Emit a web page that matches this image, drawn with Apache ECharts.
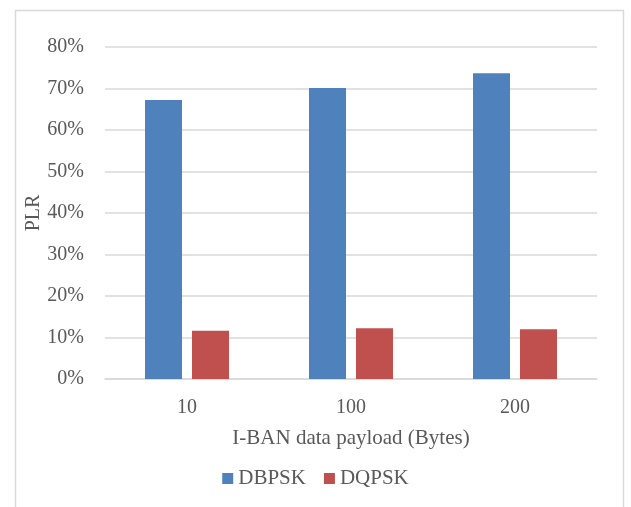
<!DOCTYPE html>
<html>
<head>
<meta charset="utf-8">
<script src="https://cdn.jsdelivr.net/npm/echarts@6/dist/echarts.min.js"></script>
<style>
  html, body { margin: 0; padding: 0; background: #fff; }
  #chart { width: 631px; height: 507px; }
</style>
</head>
<body>
<div id="chart"></div>
<script>
// Payload sizes (bytes) and packet loss ratio per modulation
const payloads = ['10', '100', '200'];
const dbpsk = [0.672, 0.701, 0.737];
const dqpsk = [0.116, 0.122, 0.120];
const yTicks = [0, 0.1, 0.2, 0.3, 0.4, 0.5, 0.6, 0.7, 0.8];

const FONT = '"Liberation Serif", "Times New Roman", serif';
const TEXT = '#595959';
const GRID = '#d9d9d9';

const chart = echarts.init(document.getElementById('chart'), null, { renderer: 'canvas' });
chart.setOption({
  backgroundColor: '#fff',
  animation: false,
  graphic: [{
    type: 'rect',
    shape: { x: 15.5, y: 10.5, width: 608, height: 520 },
    style: { fill: 'none', stroke: '#d9d9d9', lineWidth: 1.5 },
    silent: true
  }],
  grid: { left: 105, right: 34, top: 47, bottom: 128 },
  legend: {
    data: ['DBPSK', 'DQPSK'],
    bottom: 13,
    left: 'center',
    itemWidth: 11,
    itemHeight: 11,
    itemGap: 18,
    icon: 'rect',
    textStyle: { fontFamily: FONT, fontSize: 21, color: TEXT }
  },
  xAxis: {
    type: 'category',
    data: payloads,
    name: 'I-BAN data payload (Bytes)',
    nameLocation: 'middle',
    nameGap: 49,
    nameMoveOverlap: false,
    nameTextStyle: { fontFamily: FONT, fontSize: 21, color: TEXT },
    axisLine: { lineStyle: { color: GRID, width: 1.5 } },
    axisTick: { show: false },
    axisLabel: { fontFamily: FONT, fontSize: 20, color: TEXT, margin: 19 }
  },
  yAxis: {
    type: 'value',
    min: yTicks[0],
    max: yTicks[yTicks.length - 1],
    interval: 0.1,
    name: 'PLR',
    nameLocation: 'middle',
    nameGap: 61,
    nameMoveOverlap: false,
    nameTextStyle: { fontFamily: FONT, fontSize: 20, color: TEXT },
    axisLine: { show: false },
    axisTick: { show: false },
    splitLine: { lineStyle: { color: GRID, width: 1.5 } },
    axisLabel: {
      fontFamily: FONT, fontSize: 20, color: TEXT, margin: 21,
      formatter: v => Math.round(v * 100) + '%'
    }
  },
  series: [
    {
      name: 'DBPSK', type: 'bar', data: dbpsk,
      barWidth: 37, barGap: '27%',
      itemStyle: { color: '#4F81BD' }
    },
    {
      name: 'DQPSK', type: 'bar', data: dqpsk,
      barWidth: 37,
      itemStyle: { color: '#C0504D' }
    }
  ]
});
</script>
</body>
</html>
